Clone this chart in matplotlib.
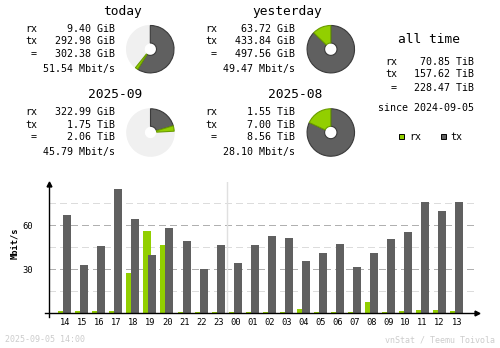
import matplotlib
matplotlib.use("Agg")
import matplotlib.pyplot as plt
import numpy as np

# hourly average rates, Mbit/s
hours = ["14", "15", "16", "17", "18", "19", "20", "21", "22", "23", "00", "01",
         "02", "03", "04", "05", "06", "07", "08", "09", "10", "11", "12", "13"]
rx_rate = [1.6, 1.6, 1.6, 1.6, 27.5, 56.1, 46.6, 0.9, 0.9, 0.9, 0.9, 0.9,
           0.9, 0.9, 3.0, 0.9, 0.9, 0.9, 7.7, 0.9, 1.6, 2.3, 2.3, 1.6]
tx_rate = [67.0, 33.0, 45.9, 84.8, 64.3, 39.8, 58.2, 49.3, 30.2, 46.6, 34.3, 46.6,
           52.7, 51.4, 35.7, 41.1, 47.3, 31.6, 41.1, 50.7, 55.5, 75.9, 69.8, 75.9]

# summary blocks: rx, tx, total (value, unit) and average rate
today_rx, today_tx, today_total = (9.40, "GiB"), (292.98, "GiB"), (302.38, "GiB")
today_rate = 51.54
yday_rx, yday_tx, yday_total = (63.72, "GiB"), (433.84, "GiB"), (497.56, "GiB")
yday_rate = 49.47
month_rx, month_tx, month_total = (322.99, "GiB"), (1.75, "TiB"), (2.06, "TiB")
month_rate = 45.79
prev_rx, prev_tx, prev_total = (1.55, "TiB"), (7.00, "TiB"), (8.56, "TiB")
prev_rate = 28.10
all_rx, all_tx, all_total = (70.85, "TiB"), (157.62, "TiB"), (228.47, "TiB")
since = "2024-09-05"
stamp = "2025-09-05 14:00"

RX = "#92cf00"
TX = "#606060"
RX_EDGE = "#6a9c00"
TX_EDGE = "#3a3a3a"
BG_PIE = "#f0f0f0"
FONT = "DejaVu Sans Mono"

W, H = 500, 348
fig = plt.figure(figsize=(W / 100, H / 100), dpi=100)


def px_rect(x0, y0, w, h):
    return [x0 / W, 1 - (y0 + h) / H, w / W, h / H]


def tib(v):
    return v[0] / 1024 if v[1] == "GiB" else v[0]


# ---- hourly bar chart ----
slot = 17.03
ax_x0, ax_top, ax_bottom, ax_right = 48.7, 182.0, 313.3, 478.0
first_center = 65.0
px_per_unit = 44.0 / 30
ax = fig.add_axes(px_rect(ax_x0, ax_top, ax_right - ax_x0, ax_bottom - ax_top))
ax.set_facecolor("none")
xlo = -(first_center - ax_x0) / slot
xhi = xlo + (ax_right - ax_x0) / slot
ax.set_xlim(xlo, xhi)
ax.set_ylim(0, (ax_bottom - ax_top) / px_per_unit)

x = np.arange(len(hours))
grid_end = (473 - first_center) / slot
ax.hlines([15, 45, 75], xlo, grid_end, colors="#dcdcdc", lw=1.0,
          linestyles=[(0, (5, 3))], zorder=1, antialiased=False)
ax.hlines([30, 60], xlo, grid_end, colors="#b0b0b0", lw=1.0,
          linestyles=[(0, (5, 3))], zorder=1, antialiased=False)
ax.axvline(9.5, color="#e0e0e0", lw=1.0, zorder=1)

bw = 8 / slot
ax.bar(x - 2.7 / slot, rx_rate, width=bw, color=RX, zorder=2)
ax.bar(x + 2.3 / slot, tx_rate, width=bw, color=TX, zorder=3)

for s in ax.spines.values():
    s.set_visible(False)
ax.set_yticks([30, 60])
ax.set_yticklabels(["30", "60"], fontsize=6.3, family=FONT)
ax.tick_params(axis="y", length=0, pad=11.5)
ax.set_xticks(x)
ax.set_xticklabels(hours, fontsize=6.3, family=FONT)
ax.tick_params(axis="x", length=0, pad=3.5)

# ---- overlay in pixel coordinates for text and axis lines ----
cv = fig.add_axes([0, 0, 1, 1])
cv.set_xlim(0, W)
cv.set_ylim(H, 0)
cv.axis("off")
cv.set_zorder(3)
cv.patch.set_visible(False)

cv.plot([ax_x0, ax_x0], [316.5, ax_top + 2], color="black", lw=1.0)
cv.plot([44.5, ax_right - 2], [ax_bottom, ax_bottom], color="black", lw=1.0)
cv.plot([ax_x0], [ax_top + 1.5], marker="^", ms=3.5, color="black")
cv.plot([ax_right - 1.5], [ax_bottom], marker=">", ms=3.5, color="black")
cv.text(14.3, 243, "Mbit/s", rotation=90, ha="center", va="center",
        fontsize=6.3, family=FONT, fontweight="bold")

small = dict(fontsize=7.2, family=FONT, va="center")
title_kw = dict(fontsize=9.3, family=FONT, va="center")


def fmt(v):
    return f"{v[0]:.2f} {v[1]}"


def block(xl, xr, ty, title, rx, tx, total, rate):
    cv.text(xr + 27, ty, title, ha="right", **title_kw)
    rows = [ty + 18, ty + 30.2, ty + 43.2, ty + 57.8]
    cv.text(xl, rows[0], "rx", ha="left", **small)
    cv.text(xl, rows[1], "tx", ha="left", **small)
    cv.text(xl + 6, rows[2], "=", ha="left", **small)
    cv.text(xr, rows[0], fmt(rx), ha="right", **small)
    cv.text(xr, rows[1], fmt(tx), ha="right", **small)
    cv.text(xr, rows[2], fmt(total), ha="right", **small)
    cv.text(xr, rows[3], f"{rate:.2f} Mbit/s", ha="right", **small)


def donut(cx, cy, rx, tx, total, ref):
    r = 24.2
    pa = fig.add_axes(px_rect(cx - r, cy - r, 2 * r, 2 * r))
    vals = [tib(tx), tib(rx), max(tib(ref) - tib(total), 0)]
    wedges, _ = pa.pie(vals, colors=[TX, RX, BG_PIE], startangle=90,
                       counterclock=False, radius=1,
                       wedgeprops=dict(width=1 - 6.3 / r, lw=0.8))
    wedges[0].set_edgecolor(TX_EDGE)
    wedges[1].set_edgecolor(RX_EDGE)
    wedges[2].set_edgecolor(BG_PIE)
    wedges[2].set_zorder(0)
    pa.set_xlim(-1.02, 1.02)
    pa.set_ylim(-1.02, 1.02)
    pa.axis("off")


block(25, 115, 11, "today", today_rx, today_tx, today_total, today_rate)
block(205, 295, 11, "yesterday", yday_rx, yday_tx, yday_total, yday_rate)
block(25, 115, 94.3, "2025-09", month_rx, month_tx, month_total, month_rate)
block(205, 295, 94.3, "2025-08", prev_rx, prev_tx, prev_total, prev_rate)

day_ref = max(today_total, yday_total, key=tib)
month_ref = max(month_total, prev_total, key=tib)
donut(150.3, 49.2, today_rx, today_tx, today_total, day_ref)
donut(330.8, 49.2, yday_rx, yday_tx, yday_total, day_ref)
donut(150.5, 132.5, month_rx, month_tx, month_total, month_ref)
donut(330.8, 132.5, prev_rx, prev_tx, prev_total, month_ref)

# all time
cv.text(428.8, 39.3, "all time", ha="center", **title_kw)
cv.text(385, 62, "rx", ha="left", **small)
cv.text(385, 74, "tx", ha="left", **small)
cv.text(391, 88, "=", ha="left", **small)
cv.text(474, 62, fmt(all_rx), ha="right", **small)
cv.text(474, 74, fmt(all_tx), ha="right", **small)
cv.text(474, 88, fmt(all_total), ha="right", **small)
cv.text(474, 108.3, f"since {since}", ha="right", **small)

# legend
cv.add_patch(plt.Rectangle((399, 134), 5, 5, facecolor=RX, edgecolor="black", lw=0.7))
cv.text(409, 136.7, "rx", ha="left", **small)
cv.add_patch(plt.Rectangle((441, 134), 5, 5, facecolor=TX, edgecolor="black", lw=0.7))
cv.text(450.5, 136.7, "tx", ha="left", **small)

# footer
foot = dict(fontsize=6.0, family=FONT, va="center", color="#cccccc")
cv.text(5, 340, stamp, ha="left", **foot)
cv.text(495, 340, "vnStat / Teemu Toivola", ha="right", **foot)

fig.savefig("out.png", dpi=100, facecolor="white")
